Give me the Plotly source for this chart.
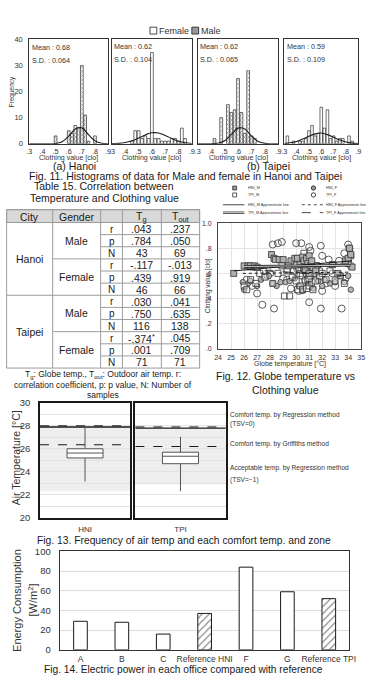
import plotly.graph_objects as go

W, H = 373, 687
FONT = "Liberation Sans, Arial, sans-serif"
INK = "#1a1a1a"


def px(x):
    return x / W


def py(y):
    return 1 - y / H


# ================= Fig. 11 data (histograms) =================
clo_ticks = [0.3, 0.4, 0.5, 0.6, 0.7, 0.8, 0.9]
clo_tick_text = [".3", ".4", ".5", ".6", ".7", ".8", ".9"]
freq_ticks = [0, 10, 20, 30, 40]

hanoi_male_clo = [0.50, 0.60, 0.625, 0.65, 0.675, 0.70, 0.725, 0.75, 0.80]
hanoi_male_freq = [3, 5, 4, 7, 6, 30, 11, 1, 3]

hanoi_female_clo = [0.45, 0.475, 0.50, 0.525, 0.55, 0.575, 0.60, 0.625, 0.65, 0.675,
                    0.70, 0.725, 0.75, 0.775, 0.80, 0.825, 0.85]
hanoi_female_freq = [1, 5, 5, 2, 3, 2, 35, 2, 2, 1, 1, 1, 2, 2, 1, 6, 2]

taipei_male_clo = [0.425, 0.475, 0.525, 0.55, 0.575, 0.60, 0.625, 0.65, 0.675, 0.70, 0.725]
taipei_male_freq = [2, 10, 15, 12, 13, 25, 12, 4, 28, 3, 2]

taipei_female_clo = [0.325, 0.375, 0.425, 0.45, 0.475, 0.50, 0.525, 0.55, 0.575, 0.60,
                     0.625, 0.65, 0.675, 0.70, 0.725, 0.75, 0.775, 0.825, 0.85]
taipei_female_freq = [3, 1, 1, 1, 2, 5, 7, 3, 4, 14, 6, 13, 2, 3, 1, 2, 2, 3, 1]

curve_clo = [0.30, 0.35, 0.40, 0.45, 0.50, 0.55, 0.60, 0.65, 0.70, 0.75, 0.80, 0.85, 0.90]
hanoi_male_curve = [0, 0, 0, 0.02, 0.12, 0.8, 2.9, 5.7, 6.1, 3.5, 1.1, 0.19, 0.02]
hanoi_female_curve = [0.04, 0.15, 0.46, 1.14, 2.2, 3.4, 4.2, 4.1, 3.2, 2.0, 0.96, 0.37, 0.11]
taipei_male_curve = [0, 0, 0.02, 0.2, 1.14, 3.5, 6.0, 5.7, 2.95, 0.85, 0.14, 0.01, 0]
taipei_female_curve = [0.12, 0.36, 0.9, 1.8, 2.9, 3.8, 4.1, 3.5, 2.5, 1.4, 0.64, 0.23, 0.07]

panel_means = ["0.68", "0.62", "0.62", "0.59"]
panel_sds = ["0.064", "0.104", "0.065", "0.109"]
panel_gender = ["Male", "Female", "Male", "Female"]

# ================= Table 15 data =================
table_header = ["City", "Gender", "", "T<sub>g</sub>", "T<sub>out</sub>"]
table_cities = ["Hanoi", "Taipei"]
table_genders = ["Male", "Female"]
table_stats = ["r", "p", "N"]
tg_values = [".043", ".784", "43", "-.117", ".439", "46",
             ".030", ".750", "116", "-.374<sup>*</sup>", ".001", "71"]
tout_values = [".237", ".050", "69", "-.013", ".919", "66",
               ".041", ".635", "138", ".045", ".709", "71"]

# ================= Fig. 12 data (scatter) =================
hni_m_x = [25.2, 26.0, 26.3, 26.5, 26.8, 27.0, 28.1, 28.3, 28.4, 28.7, 29.0, 29.6, 29.9, 30.1,
           30.3, 30.5, 30.6, 30.8, 30.9, 31.0, 31.1, 31.2, 31.3, 31.5, 32.8, 33.2, 33.8, 34.0,
           34.1, 34.2, 34.3, 30.7, 31.0, 29.4]
hni_m_y = [0.60, 0.66, 0.66, 0.66, 0.66, 0.65, 0.75, 0.72, 0.71, 0.71, 0.71, 0.70, 0.72, 0.72,
           0.67, 0.73, 0.70, 0.72, 0.68, 0.74, 0.66, 0.70, 0.64, 0.62, 0.67, 0.60, 0.70, 0.72,
           0.80, 0.75, 0.65, 0.62, 0.60, 0.66]
tpi_m_x = [26.0, 26.2, 26.5, 26.9, 27.2, 27.6, 28.2, 28.6, 29.1, 29.3, 29.5, 29.7, 29.8, 30.0,
           30.0, 30.1, 30.2, 30.3, 30.3, 30.4, 30.5, 30.5, 30.6, 30.7, 30.7, 30.8, 30.8, 30.9,
           30.9, 31.0, 31.0, 31.1, 31.1, 31.2, 31.2, 31.3, 31.4, 31.5, 31.6, 31.8, 32.0, 32.3,
           32.6, 33.0, 33.4, 33.7, 34.0, 34.2, 28.9, 30.6, 31.0, 30.4]
tpi_m_y = [0.50, 0.47, 0.55, 0.52, 0.60, 0.57, 0.52, 0.60, 0.42, 0.62, 0.42, 0.57, 0.62, 0.66,
           0.54, 0.47, 0.64, 0.60, 0.50, 0.68, 0.58, 0.47, 0.64, 0.54, 0.70, 0.60, 0.48, 0.66,
           0.55, 0.62, 0.50, 0.58, 0.68, 0.53, 0.63, 0.47, 0.60, 0.54, 0.66, 0.58, 0.60, 0.55,
           0.62, 0.54, 0.58, 0.52, 0.68, 0.74, 0.66, 0.76, 0.56, 0.72]
hni_f_x = [25.9, 26.0, 26.3, 26.5, 27.0, 27.3, 27.9, 28.2, 28.5, 28.8, 29.2, 29.5, 29.9, 30.2,
           30.5, 30.9, 31.3, 31.7, 32.0, 32.2, 32.6, 33.0, 33.4, 33.7, 34.0, 34.2]
hni_f_y = [0.53, 0.47, 0.52, 0.54, 0.50, 0.55, 0.58, 0.52, 0.50, 0.53, 0.53, 0.54, 0.56, 0.50,
           0.46, 0.52, 0.48, 0.54, 0.50, 0.55, 0.52, 0.53, 0.58, 0.53, 0.58, 0.47]
tpi_f_x = [26.2, 26.6, 27.0, 27.4, 27.5, 28.2, 28.3, 28.6, 28.9, 29.3, 29.6, 30.0, 30.1, 30.4,
           30.7, 31.0, 31.0, 31.1, 31.3, 31.6, 31.9, 31.9, 32.0, 32.3, 32.5, 32.8, 33.0, 33.3,
           33.5, 33.7, 33.8, 34.0, 34.1, 34.2, 28.0, 29.0, 30.2, 32.0, 27.8, 31.8]
tpi_f_y = [0.55, 0.50, 0.44, 0.35, 0.62, 0.83, 0.32, 0.84, 0.85, 0.55, 0.48, 0.84, 0.63, 0.84,
           0.55, 0.81, 0.37, 0.78, 0.60, 0.66, 0.82, 0.32, 0.74, 0.52, 0.71, 0.60, 0.50, 0.70,
           0.32, 0.76, 0.56, 0.83, 0.80, 0.66, 0.60, 0.56, 0.46, 0.46, 0.58, 0.62]
hni_m_line_x, hni_m_line_y = [25.2, 34.3], [0.62, 0.70]
hni_f_line_x, hni_f_line_y = [25.9, 34.2], [0.60, 0.61]
tpi_m_line_x, tpi_m_line_y = [26.0, 34.2], [0.655, 0.665]
tpi_f_line_x, tpi_f_line_y = [26.2, 34.2], [0.63, 0.58]
temp_ticks = list(range(24, 36))
clo2_ticks = [0, 0.2, 0.4, 0.6, 0.8, 1.0]
clo2_tick_text = [".0", ".2", ".4", ".6", ".8", "1.0"]

# ================= Fig. 13 data (box plots) =================
box_cities = ["HNI", "TPI"]
box_q1 = [25.2, 24.7]
box_median = [25.63, 25.35]
box_q3 = [26.0, 25.7]
box_low = [23.15, 22.3]
box_high = [27.8, 27.05]
comfort_regression = [27.9, 27.8]
comfort_regression_upper = [28.0, 27.9]
comfort_griffiths = [26.35, 26.2]
acceptable_low = [22.3, 22.9]
air_ticks = [20, 22, 24, 26, 28, 30]

# ================= Fig. 14 data (bars) =================
offices = ["A", "B", "C", "Reference HNI", "F", "G", "Reference TPI"]
energy = [29, 28, 16, 37, 84, 59, 52]
is_reference = [False, False, False, True, False, False, True]

fig = go.Figure()
annotations = []
shapes = []


def ann(text, x, y, size, xanchor="center", yanchor="middle", angle=0, color=INK):
    annotations.append(dict(text=text, x=px(x), y=py(y), xref="paper", yref="paper",
                            showarrow=False, xanchor=xanchor, yanchor=yanchor,
                            textangle=angle, borderpad=0,
                            font=dict(size=size, family=FONT, color=color)))


def pline(x0, y0, x1, y1, color=INK, width=1, dash="solid"):
    shapes.append(dict(type="line", xref="paper", yref="paper", x0=px(x0), y0=py(y0),
                       x1=px(x1), y1=py(y1), line=dict(color=color, width=width, dash=dash)))


def prect(x0, y0, x1, y1, fill, color=INK, width=1, layer="above"):
    shapes.append(dict(type="rect", xref="paper", yref="paper", x0=px(x0), y0=py(y1),
                       x1=px(x1), y1=py(y0), fillcolor=fill, layer=layer,
                       line=dict(color=color, width=width)))


def pcircle(x0, y0, x1, y1, fill, color=INK, width=0.8):
    shapes.append(dict(type="circle", xref="paper", yref="paper", x0=px(x0), y0=py(y1),
                       x1=px(x1), y1=py(y0), fillcolor=fill, line=dict(color=color, width=width)))


layout_axes = {}

# ---------------- Fig. 11 ----------------
hist_x_dom = [(26, 107), (111, 193), (199, 282), (288, 364)]
hist_bars = [(hanoi_male_clo, hanoi_male_freq), (hanoi_female_clo, hanoi_female_freq),
             (taipei_male_clo, taipei_male_freq), (taipei_female_clo, taipei_female_freq)]
hist_curves = [hanoi_male_curve, hanoi_female_curve, taipei_male_curve, taipei_female_curve]
for i in range(4):
    n = i + 1
    xa = "x" if n == 1 else f"x{n}"
    ya = "y" if n == 1 else f"y{n}"
    cx, cy = hist_bars[i]
    male = panel_gender[i] == "Male"
    fig.add_trace(go.Bar(
        x=cx, y=cy, width=0.021, xaxis=xa, yaxis=ya, showlegend=False,
        marker=dict(color="white", line=dict(color="#333", width=0.7),
                    pattern=dict(shape="x" if male else "", fgcolor="#444", size=3,
                                 solidity=0.45))))
    fig.add_trace(go.Scatter(x=curve_clo, y=hist_curves[i], mode="lines", xaxis=xa, yaxis=ya,
                             showlegend=False, line=dict(color=INK, width=1.1, shape="spline")))
    layout_axes["xaxis" if n == 1 else f"xaxis{n}"] = dict(
        domain=[px(hist_x_dom[i][0]), px(hist_x_dom[i][1])], range=[0.3, 0.9],
        tickvals=clo_ticks, ticktext=clo_tick_text, showgrid=False, zeroline=False,
        showline=True, mirror=True, linecolor="#333", linewidth=1, ticks="",
        ticklabelstandoff=0, tickfont=dict(size=7.3, family=FONT, color="#333"), anchor=ya)
    layout_axes["yaxis" if n == 1 else f"yaxis{n}"] = dict(
        domain=[py(140), py(34)], range=[0, 40], tickvals=freq_ticks, showgrid=False,
        zeroline=False, showline=True, mirror=True, linecolor="#333", linewidth=1, ticks="",
        showticklabels=(n == 1), ticklabelstandoff=4,
        tickfont=dict(size=7.5, family=FONT, color="#333"), anchor=xa)
    x0 = hist_x_dom[i][0] + 1.5
    ann("Mean : " + panel_means[i], x0, 42 if n == 1 else 41, 7.2, xanchor="left", color="#333")
    ann("S.D. : " + panel_sds[i], x0, 55 if n == 1 else 54, 7.2, xanchor="left", color="#333")
    ann("Clothing value [clo]", (hist_x_dom[i][0] + hist_x_dom[i][1]) / 2, 154.5, 7,
        color="#333")

ann("Frequency", 8, 87, 6.5, angle=-90, color="#333")
prect(150, 21.5, 157, 28.5, "white", width=0.8)
ann("Female", 158.5, 25, 9, xanchor="left", color="#333")
prect(193, 21.5, 200, 28.5, "#9a9a9a", width=0.8)
ann("Male", 201.5, 25, 9, xanchor="left", color="#333")
ann("(a) Hanoi", 72, 163, 10.5)
ann("(b) Taipei", 272, 163, 10.5)
ann("Fig. 11. Histograms of data for Male and female in Hanoi and Taipei", 186, 173, 10.5)
ann("Table 15. Correlation between", 103, 183, 10.5)
ann("Temperature and Clothing value", 103, 195.5, 10.5)

# ---------------- Table 15 ----------------
tcols = [2.7, 50, 99.3, 121.7, 161.7, 201]
t_top, t_head, row_h = 207, 220, 12.33
n_rows = len(tg_values)
t_bot = t_head + n_rows * row_h
GRID = "#9c9c9c"
prect(tcols[0], t_top, tcols[-1], t_head, "#d9d9d9", color=GRID, width=1, layer="below")
for j, h in enumerate(table_header):
    if h:
        ann(h, (tcols[j] + tcols[j + 1]) / 2, (t_top + t_head) / 2 + 0.5, 10.5)
pline(tcols[0], t_top, tcols[-1], t_top, GRID)
pline(tcols[0], t_bot, tcols[-1], t_bot, GRID)
pline(tcols[0], t_head, tcols[-1], t_head, GRID)
for xc in tcols:
    pline(xc, t_top, xc, t_bot, GRID)
for r in range(1, n_rows):
    yr = t_head + r * row_h
    if r % 6 == 0:
        pline(tcols[0], yr, tcols[-1], yr, GRID)
    elif r % 3 == 0:
        pline(tcols[1], yr, tcols[-1], yr, GRID)
    else:
        pline(tcols[2], yr, tcols[-1], yr, GRID)
for ci, city in enumerate(table_cities):
    ann(city, (tcols[0] + tcols[1]) / 2, t_head + (ci * 6 + 3) * row_h, 10.5)
    for gi, g in enumerate(table_genders):
        ann(g, (tcols[1] + tcols[2]) / 2, t_head + (ci * 6 + gi * 3 + 1.5) * row_h, 10.5)
for r in range(n_rows):
    yc = t_head + (r + 0.5) * row_h + 0.5
    ann(table_stats[r % 3], (tcols[2] + tcols[3]) / 2, yc, 10)
    ann(tg_values[r], (tcols[3] + tcols[4]) / 2, yc, 10.5)
    ann(tout_values[r], (tcols[4] + tcols[5]) / 2, yc, 10.5)
ann("T<sub>g</sub>: Globe temp., T<sub>out</sub>: Outdoor air temp. r:", 102, 375, 8.5)
ann("correlation coefficient, p: p value, N: Number of", 102, 385, 8.5)
ann("samples", 102, 395, 8.5)

# ---------------- Fig. 12 ----------------
SX, SY = "x5", "y5"
sq = dict(symbol="square", size=6, line=dict(color="#333", width=0.8))
ci_ = dict(symbol="circle", size=7, line=dict(color="#333", width=0.8))
fig.add_trace(go.Scatter(x=tpi_f_x, y=tpi_f_y, mode="markers", xaxis=SX, yaxis=SY,
                         showlegend=False, marker=dict(color="rgba(255,255,255,0)", **ci_)))
fig.add_trace(go.Scatter(x=hni_f_x, y=hni_f_y, mode="markers", xaxis=SX, yaxis=SY,
                         showlegend=False, marker=dict(color="#b5b5b5", symbol="circle", size=5.5,
                                                       line=dict(color="#333", width=0.8))))
fig.add_trace(go.Scatter(x=tpi_m_x, y=tpi_m_y, mode="markers", xaxis=SX, yaxis=SY,
                         showlegend=False, marker=dict(color="rgba(255,255,255,0.3)", **sq)))
fig.add_trace(go.Scatter(x=hni_m_x, y=hni_m_y, mode="markers", xaxis=SX, yaxis=SY,
                         showlegend=False, marker=dict(color="#b0b0b0", **sq)))
fig.add_trace(go.Scatter(x=hni_m_line_x, y=hni_m_line_y, mode="lines", xaxis=SX, yaxis=SY,
                         showlegend=False, line=dict(color=INK, width=1)))
fig.add_trace(go.Scatter(x=hni_f_line_x, y=hni_f_line_y, mode="lines", xaxis=SX, yaxis=SY,
                         showlegend=False, line=dict(color=INK, width=1, dash="dot")))
fig.add_trace(go.Scatter(x=tpi_m_line_x, y=tpi_m_line_y, mode="lines", xaxis=SX, yaxis=SY,
                         showlegend=False, line=dict(color=INK, width=2.6)))
fig.add_trace(go.Scatter(x=tpi_m_line_x, y=tpi_m_line_y, mode="lines", xaxis=SX, yaxis=SY,
                         showlegend=False, line=dict(color="white", width=0.8)))
fig.add_trace(go.Scatter(x=tpi_f_line_x, y=tpi_f_line_y, mode="lines", xaxis=SX, yaxis=SY,
                         showlegend=False, line=dict(color=INK, width=1, dash="dash")))
layout_axes["xaxis5"] = dict(domain=[px(220), px(367)], range=[24, 35], tickvals=temp_ticks,
                             showgrid=True, gridcolor="#e4e4e4", zeroline=False, showline=True,
                             mirror=True, linecolor="#444", linewidth=1, ticks="",
                             ticklabelstandoff=2, tickfont=dict(size=7, family=FONT, color="#333"),
                             anchor="y5")
layout_axes["yaxis5"] = dict(domain=[py(348.3), py(220.7)], range=[0, 1.0], tickvals=clo2_ticks,
                             ticktext=clo2_tick_text, showgrid=True, gridcolor="#e4e4e4",
                             zeroline=False, showline=True, mirror=True, linecolor="#444",
                             linewidth=1, ticks="", ticklabelstandoff=4,
                             tickfont=dict(size=7, family=FONT, color="#333"), anchor="x5")
ann("Globe temperature [°C]", 293.5, 364, 7, color="#333")
ann("Clothing value [clo]", 210, 284.5, 6.5, angle=-90, color="#333")
ann("Fig. 12. Globe temperature vs", 289, 376.5, 10.5)
ann("Clothing value", 289, 390, 10.5)
# custom legend (two columns like the spreadsheet legend)
LF = 3.8
C1_SYM, C1_TXT, C2_SYM, C2_TXT = 237, 250, 318, 330
prect(C1_SYM - 2, 183, C1_SYM + 2, 187, "#9a9a9a", width=0.7)
ann("HNI_M", C1_TXT, 185, LF, xanchor="left", color="#333")
pcircle(C2_SYM - 2.2, 182.8, C2_SYM + 2.2, 187.2, "#9a9a9a")
ann("HNI_F", C2_TXT, 185, LF, xanchor="left", color="#333")
prect(C1_SYM - 2, 190, C1_SYM + 2, 194, "white", width=0.7)
ann("TPI_M", C1_TXT, 192, LF, xanchor="left", color="#333")
pcircle(C2_SYM - 2.2, 189.8, C2_SYM + 2.2, 194.2, "white")
ann("TPI_F", C2_TXT, 192, LF, xanchor="left", color="#333")
pline(C1_SYM - 12, 202, C1_SYM + 10, 202, INK, 0.8)
ann("HNI_M Approximate line", C1_TXT, 202, LF, xanchor="left", color="#333")
pline(C2_SYM - 12, 202, C2_SYM + 10, 202, INK, 0.8, "dot")
ann("HNI_F Approximate line", C2_TXT, 202, LF, xanchor="left", color="#333")
pline(C1_SYM - 12, 209.3, C1_SYM + 10, 209.3, INK, 0.7)
pline(C1_SYM - 12, 210.9, C1_SYM + 10, 210.9, INK, 0.7)
ann("TPI_M Approximate line", C1_TXT, 210, LF, xanchor="left", color="#333")
pline(C2_SYM - 12, 210, C2_SYM + 10, 210, INK, 0.8, "dash")
ann("TPI_F Approximate line", C2_TXT, 210, LF, xanchor="left", color="#333")

# ---------------- Fig. 13 ----------------
box_x_dom = [(37, 129.5), (135, 227.7)]
for k in range(2):
    xa, ya = f"x{6 + k}", f"y{6 + k}"
    fig.add_trace(go.Box(x=[box_cities[k]], q1=[box_q1[k]], median=[box_median[k]],
                         q3=[box_q3[k]], lowerfence=[box_low[k]], upperfence=[box_high[k]],
                         xaxis=xa, yaxis=ya, showlegend=False, width=0.4, whiskerwidth=0,
                         fillcolor="white", line=dict(color="#555", width=1),
                         hoverinfo="skip"))
    layout_axes[f"xaxis{6 + k}"] = dict(
        domain=[px(box_x_dom[k][0]), px(box_x_dom[k][1])], type="category", range=[-0.5, 0.5],
        showgrid=False, zeroline=False, showline=True, mirror=True, linecolor=INK, linewidth=1.6,
        ticks="", ticklabelstandoff=3, tickfont=dict(size=8, family=FONT, color="#333"),
        anchor=ya)
    layout_axes[f"yaxis{6 + k}"] = dict(
        domain=[py(520), py(403.3)], range=[20, 30], tickvals=air_ticks, showgrid=True,
        gridcolor="#e2e2e2", minor=dict(dtick=1, showgrid=True, gridcolor="#e2e2e2"),
        zeroline=False, showline=True, mirror=True, linecolor=INK, linewidth=1.6, ticks="",
        showticklabels=(k == 0), ticklabelstandoff=6,
        tickfont=dict(size=9.5, family=FONT, color="#333"), anchor=xa)
    shapes.append(dict(type="rect", xref=f"{xa} domain", yref=ya, x0=0, x1=1,
                       y0=acceptable_low[k], y1=comfort_regression[k], fillcolor="#eeeeee",
                       line=dict(width=0), layer="below"))
    shapes.append(dict(type="line", xref=f"{xa} domain", yref=ya, x0=0, x1=1,
                       y0=comfort_regression_upper[k], y1=comfort_regression_upper[k],
                       line=dict(color=INK, width=1, dash="dash")))
    shapes.append(dict(type="line", xref=f"{xa} domain", yref=ya, x0=0, x1=1,
                       y0=comfort_regression[k], y1=comfort_regression[k],
                       line=dict(color=INK, width=1.4)))
    shapes.append(dict(type="line", xref=f"{xa} domain", yref=ya, x0=0, x1=1,
                       y0=comfort_griffiths[k], y1=comfort_griffiths[k],
                       line=dict(color=INK, width=1.1, dash="dash")))
ann("Air Temperature [°C]", 12, 459, 10.5, angle=-90, color="#333")
RL = 6.6
ann("Comfort temp. by Regression method", 231, 416, RL, xanchor="left", color="#333")
ann("(TSV=0)", 231, 424.5, RL, xanchor="left", color="#333")
ann("Comfort temp. by Griffiths method", 231, 445.5, RL, xanchor="left", color="#333")
ann("Acceptable temp. by Regression method", 231, 469.5, RL, xanchor="left", color="#333")
ann("(TSV=−1)", 231, 481.5, RL, xanchor="left", color="#333")
ann("Fig. 13. Frequency of air temp and each comfort temp. and zone", 185, 543, 10.3)

# ---------------- Fig. 14 ----------------
fig.add_trace(go.Bar(x=offices, y=energy, width=0.33, xaxis="x8", yaxis="y8", showlegend=False,
                     marker=dict(color="white", line=dict(color=INK, width=1),
                                 pattern=dict(shape=["/" if r else "" for r in is_reference],
                                              fgcolor=INK, bgcolor="white", size=5,
                                              solidity=0.25))))
layout_axes["xaxis8"] = dict(domain=[px(57.3), px(355)], showgrid=False, zeroline=False,
                             showline=True, mirror=True, linecolor="#333", linewidth=1.3,
                             ticks="", ticklabelstandoff=1,
                             tickfont=dict(size=8.5, family=FONT, color="#333"), anchor="y8")
layout_axes["yaxis8"] = dict(domain=[py(654.3), py(554.3)], range=[0, 100], dtick=20,
                             showgrid=True, gridcolor="#dcdcdc", zeroline=False, showline=True,
                             mirror=True, linecolor="#333", linewidth=1.3, ticks="",
                             ticklabelstandoff=6, tickfont=dict(size=9.5, family=FONT, color="#333"),
                             anchor="x8")
ann("Energy Consumption", 14, 604, 11, angle=-90, color="#333")
ann("[W/m<sup>2</sup>]", 30, 604, 11, angle=-90, color="#333")
ann("Fig. 14. Electric power in each office compared with reference", 184, 674.5, 10.2)

fig.update_layout(width=W, height=H, margin=dict(l=0, r=0, t=0, b=0), paper_bgcolor="white",
                  plot_bgcolor="white", barmode="overlay", annotations=annotations,
                  shapes=shapes, font=dict(family=FONT, color=INK), **layout_axes)
fig.write_html("out.html")
